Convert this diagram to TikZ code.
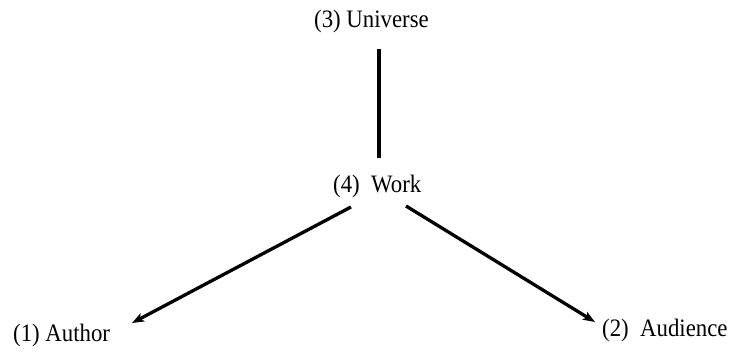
\documentclass[tikz,border=0pt]{standalone}
\usepackage{fontspec}
\setmainfont{Liberation Serif}
\usetikzlibrary{arrows.meta}
\newcommand{\tstretch}[1]{\scalebox{1}[1.1]{#1}}
\begin{document}
\begin{tikzpicture}[x=1pt,y=-1pt,
  lbl/.style={anchor=base west,inner sep=0pt,font=\fontsize{22.8}{26}\selectfont},
  conn/.style={line width=3.6pt},
  arr/.style={line width=3.3pt,-{Stealth[length=12pt,width=9pt,inset=3pt]}}]
\useasboundingbox (0,0) rectangle (729,352);
\node[lbl] (U) at (314,28) {\tstretch{(3) Universe}};
\node[lbl] (W) at (333,193) {\tstretch{(4)\ \ Work}};
\node[lbl] (A) at (13,342) {\tstretch{(1) Author}};
\node[lbl] (D) at (602,337) {\tstretch{(2)\ \ Audience}};
\coordinate (u1) at (379,49);
\coordinate (w0) at (379,158);
\coordinate (wl) at (351,207);
\coordinate (wr) at (406,206);
\coordinate (a1) at (132,323);
\coordinate (d1) at (595,322);
\draw[conn] (u1) -- (w0);
\draw[arr] (wl) -- (a1);
\draw[arr] (wr) -- (d1);
\end{tikzpicture}
\end{document}
